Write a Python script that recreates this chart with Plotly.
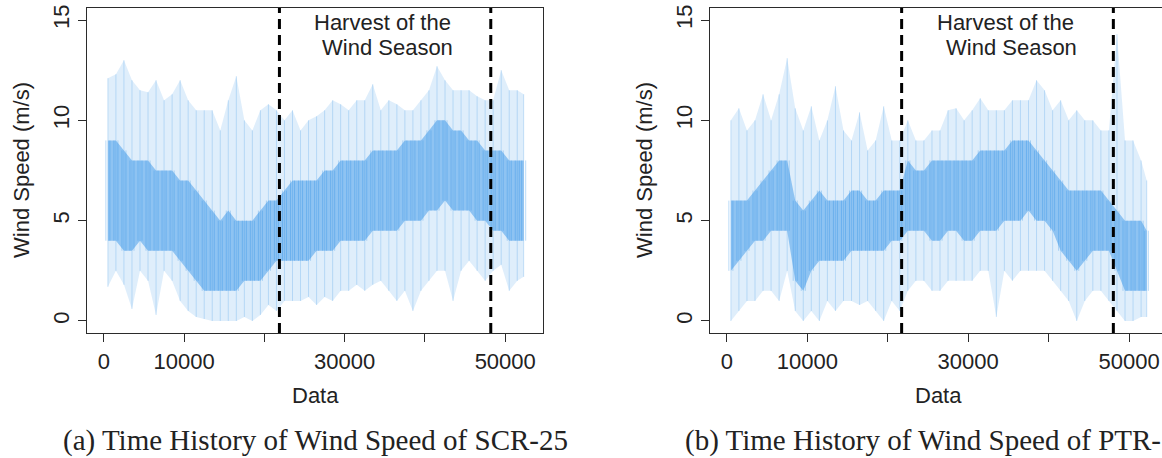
import plotly.graph_objects as go

W, H = 1162, 458
BIN = 1000

# ---------------- data (per 1000-sample bin) ----------------
N_a = 52600
a_max = [12.1, 12.3, 13.0, 12.0, 11.5, 11.4, 12.0, 11.0, 11.3, 12.0,
         11.0, 10.5, 10.5, 10.5, 9.5, 11.0, 12.2, 10.0, 9.5, 10.5,
         10.8, 10.5, 10.0, 10.5, 9.5, 10.0, 10.2, 10.5, 11.0, 10.8,
         10.5, 11.0, 11.0, 11.8, 10.5, 11.0, 10.8, 10.5, 10.5, 11.0,
         11.5, 12.7, 12.0, 11.5, 11.5, 11.5, 11.2, 11.0, 11.0, 12.5,
         11.5, 11.5, 11.3]
a_min = [1.7, 2.5, 1.8, 0.6, 2.5, 2.0, 0.3, 2.5, 2.0, 1.0,
         0.5, 0.2, 0.1, 0.0, 0.0, 0.0, 0.0, 0.2, 0.0, 0.3,
         0.8, 0.5, 1.0, 1.0, 1.0, 1.2, 0.8, 1.2, 1.0, 1.5,
         1.5, 1.8, 1.5, 1.8, 2.0, 1.5, 1.0, 1.5, 0.5, 1.5,
         2.0, 2.5, 2.5, 1.0, 2.5, 3.0, 2.5, 2.0, 2.5, 2.8,
         1.5, 2.0, 2.2]
a_core_hi = [9.0, 9.0, 8.5, 8.0, 8.0, 8.0, 7.5, 7.5, 7.5, 7.0,
             7.0, 6.5, 6.0, 5.5, 5.0, 5.5, 5.0, 5.0, 5.0, 5.5,
             6.0, 6.0, 6.5, 7.0, 7.0, 7.0, 7.0, 7.5, 7.5, 8.0,
             8.0, 8.0, 8.0, 8.5, 8.5, 8.5, 8.5, 9.0, 9.0, 9.0,
             9.5, 10.0, 10.0, 9.5, 9.5, 9.0, 9.0, 8.5, 8.5, 8.5,
             8.0, 8.0, 8.0]
a_core_lo = [4.0, 4.0, 3.5, 3.5, 4.0, 3.5, 3.5, 3.5, 3.5, 3.0,
             2.5, 2.0, 1.5, 1.5, 1.5, 1.5, 1.5, 2.0, 2.0, 2.0,
             2.5, 3.0, 3.0, 3.0, 3.0, 3.0, 3.5, 3.5, 3.5, 4.0,
             4.0, 4.0, 4.0, 4.5, 4.5, 4.5, 4.5, 5.0, 5.0, 5.0,
             5.5, 5.5, 6.0, 5.5, 5.5, 5.5, 5.0, 5.0, 4.5, 4.5,
             4.0, 4.0, 4.0]

N_b = 52400
b_max = [10.0, 10.6, 9.5, 10.0, 11.3, 10.0, 11.3, 13.1, 10.6, 9.5,
         10.7, 9.0, 10.0, 11.7, 9.5, 9.0, 10.4, 8.5, 9.0, 10.7,
         9.0, 9.0, 10.0, 9.0, 9.0, 9.5, 9.5, 10.5, 10.6, 10.0,
         10.5, 11.1, 10.5, 10.5, 10.5, 11.0, 11.0, 11.0, 12.0, 11.5,
         10.5, 11.0, 10.0, 10.5, 10.0, 10.0, 9.5, 9.5, 14.3, 9.0,
         9.0, 8.0, 7.0]
b_min = [0.0, 0.5, 1.0, 1.0, 1.5, 1.5, 1.0, 2.5, 0.5, 0.0,
         0.5, 0.0, 1.0, 0.5, 1.0, 1.0, 0.8, 1.0, 0.5, 0.0,
         1.0, 0.5, 1.5, 2.0, 2.0, 1.5, 1.5, 2.0, 2.0, 2.0,
         2.0, 2.5, 2.5, 0.2, 2.5, 2.0, 2.5, 2.5, 2.5, 2.5,
         2.0, 1.5, 1.0, 0.0, 1.0, 1.5, 1.5, 1.0, 0.5, 0.0,
         0.0, 0.2, 0.2]
b_core_hi = [6.0, 6.0, 6.0, 6.5, 7.0, 7.5, 8.0, 8.0, 6.0, 5.5,
             6.0, 6.5, 6.0, 6.0, 6.0, 6.5, 6.5, 6.0, 6.0, 6.5,
             6.5, 6.5, 8.0, 7.5, 7.5, 8.0, 8.0, 8.0, 8.0, 8.0,
             8.0, 8.5, 8.5, 8.5, 8.5, 9.0, 9.0, 9.0, 8.5, 8.0,
             7.5, 7.0, 6.5, 6.5, 6.5, 6.5, 6.5, 6.0, 5.5, 5.0,
             5.0, 5.0, 4.5]
b_core_lo = [2.5, 3.0, 3.5, 4.0, 4.0, 4.5, 4.5, 4.5, 2.0, 1.5,
             2.5, 3.0, 3.0, 3.0, 3.0, 3.5, 3.5, 3.5, 3.5, 3.5,
             4.0, 4.0, 4.5, 4.5, 4.5, 4.0, 4.0, 4.5, 4.5, 4.0,
             4.0, 4.5, 4.5, 4.5, 5.0, 5.0, 5.0, 5.5, 5.0, 5.0,
             4.5, 3.5, 3.0, 2.5, 3.0, 3.5, 3.5, 3.5, 2.5, 1.5,
             1.5, 1.5, 1.5]

season_a = [21870, 48200]
season_b = [21730, 48050]

x_tickvals = [0, 10000, 20000, 30000, 40000, 50000]
x_ticktext = ["0", "10000", "", "30000", "", "50000"]
y_tickvals = [0, 5, 10, 15]
y_ticktext = ["0", "5", "10", "15"]

# ---------------- helpers ----------------
BLUE = "30,136,229"
AX = "#2b2b2b"
SANS = "Liberation Sans, Arial, sans-serif"
SERIF = "Liberation Serif, serif"


def centers(vals, n_total):
    xs = []
    for i in range(len(vals)):
        lo = i * BIN
        hi = min((i + 1) * BIN, n_total)
        xs.append((lo + hi) / 2)
    return xs


def band_traces(xs, hi, lo, alpha, xa, ya):
    return [
        go.Scatter(x=xs, y=hi, mode="lines", line=dict(width=0),
                   hoverinfo="skip", showlegend=False, xaxis=xa, yaxis=ya),
        go.Scatter(x=xs, y=lo, mode="lines", line=dict(width=0),
                   fill="tonexty", fillcolor=f"rgba({BLUE},{alpha})",
                   hoverinfo="skip", showlegend=False, xaxis=xa, yaxis=ya),
    ]


def strands(xs, hi, lo, offset, n_total):
    sx, sy = [], []
    for i, x in enumerate(xs):
        xx = min(max(x + offset, 1), n_total)
        sx += [xx, xx, None]
        sy += [hi[i], lo[i], None]
    return sx, sy


fig = go.Figure()
for (n_total, mx, mn, chi, clo, xa, ya) in [
    (N_a, a_max, a_min, a_core_hi, a_core_lo, "x", "y"),
    (N_b, b_max, b_min, b_core_hi, b_core_lo, "x2", "y2"),
]:
    xs = centers(mx, n_total)
    for t in band_traces(xs, mx, mn, 0.14, xa, ya):
        fig.add_trace(t)
    for t in band_traces(xs, chi, clo, 0.42, xa, ya):
        fig.add_trace(t)
    sx, sy = strands(xs, mx, mn, 0, n_total)
    fig.add_trace(go.Scatter(x=sx, y=sy, mode="lines", connectgaps=False,
                             line=dict(width=1, color=f"rgba({BLUE},0.22)"),
                             hoverinfo="skip", showlegend=False, xaxis=xa, yaxis=ya))
    for off in (-BIN / 4, BIN / 4):
        sx, sy = strands(xs, chi, clo, off, n_total)
        fig.add_trace(go.Scatter(x=sx, y=sy, mode="lines", connectgaps=False,
                                 line=dict(width=1, color=f"rgba({BLUE},0.3)"),
                                 hoverinfo="skip", showlegend=False, xaxis=xa, yaxis=ya))


def px_x(p):
    return p / W


def px_y(p):
    return 1 - p / H


y_dom = [px_y(333), px_y(8)]

common_x = dict(tickmode="array", tickvals=x_tickvals, ticktext=x_ticktext,
                ticks="outside", ticklen=8, tickwidth=1.2, tickcolor=AX,
                showline=True, linecolor=AX, linewidth=1.3,
                showgrid=False, zeroline=False, automargin=False,
                tickfont=dict(family=SANS, size=22, color="#222"))
common_y = dict(tickmode="array", tickvals=y_tickvals, ticktext=y_ticktext,
                ticks="outside", ticklen=8, tickwidth=1.2, tickcolor=AX,
                showline=True, linecolor=AX, linewidth=1.3,
                showgrid=False, zeroline=False, tickangle=-90, automargin=False,
                range=[-0.6, 15.6], domain=y_dom,
                tickfont=dict(family=SANS, size=22, color="#222"))

fig.update_layout(
    width=W, height=H,
    margin=dict(l=0, r=0, t=0, b=0, pad=0, autoexpand=False),
    paper_bgcolor="white", plot_bgcolor="white",
    xaxis=dict(common_x, domain=[px_x(87), px_x(543)], range=[-2103, 54707],
               anchor="y", mirror=True),
    yaxis=dict(common_y, anchor="x", mirror=True),
    xaxis2=dict(common_x, domain=[px_x(710), 1.0], range=[-2095, 54098],
                anchor="y2", mirror=True),
    yaxis2=dict(common_y, anchor="x2", mirror=False),
)

shapes = []
for xv in season_a:
    shapes.append(dict(type="line", xref="x", yref="y domain", x0=xv, x1=xv,
                       y0=0, y1=1, line=dict(color="black", width=3, dash="10px,6px")))
for xv in season_b:
    shapes.append(dict(type="line", xref="x2", yref="y2 domain", x0=xv, x1=xv,
                       y0=0, y1=1, line=dict(color="black", width=3, dash="10px,6px")))
fig.update_layout(shapes=shapes)


def label(x, y, text, size=22, family=SANS, angle=0, xanchor="center", **kw):
    return dict(x=x, y=y, text=text, showarrow=False, textangle=angle,
                xanchor=xanchor, yanchor="middle",
                font=dict(family=family, size=size, color="#222"), **kw)


ann = []
for xa, ya in [("x", "y"), ("x2", "y2")]:
    ann.append(label(34650, 14.9, "Harvest of the", xref=xa, yref=ya))
    ann.append(label(35350, 13.65, "Wind Season", xref=xa, yref=ya))

ann.append(label(px_x(315), px_y(395), "Data", xref="paper", yref="paper"))
ann.append(label(px_x(938), px_y(395), "Data", xref="paper", yref="paper"))
ann.append(label(px_x(21), px_y(170), "Wind Speed (m/s)", angle=-90,
                 xref="paper", yref="paper"))
ann.append(label(px_x(644), px_y(170), "Wind Speed (m/s)", angle=-90,
                 xref="paper", yref="paper"))
ann.append(label(px_x(315), px_y(440), "(a) Time History of Wind Speed of SCR-25",
                 size=29, family=SERIF, xref="paper", yref="paper"))
ann.append(label(px_x(683), px_y(440), "(b) Time History of Wind Speed of PTR-",
                 size=29, family=SERIF, xanchor="left", xref="paper", yref="paper"))
fig.update_layout(annotations=ann)

fig.write_html("out.html",
               config={"displayModeBar": False},
               post_script="document.body.style.margin='0';"
                           "document.body.style.overflow='hidden';")
